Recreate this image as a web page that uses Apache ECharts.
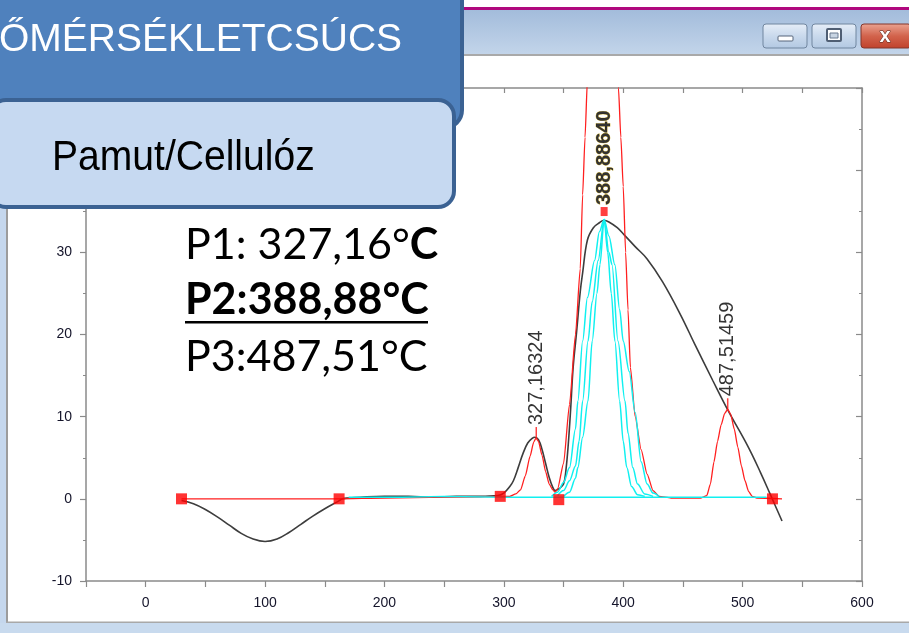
<!DOCTYPE html>
<html><head><meta charset="utf-8">
<script src="https://cdn.jsdelivr.net/npm/echarts@6/dist/echarts.min.js"></script>
<style>html,body{margin:0;padding:0;background:#fff}#c{width:909px;height:633px}</style>
</head><body><div id="c"></div>
<script>
// ---- data ----
const dtgT = [30,40,50,60,70,80,90,100,110,120,130,140,150,160,165,170,180,200,220,240,260,280,295,300,305,308,312,316,320,324,326,329,332,335,338,341,343,346,350,352,354,356,358,361,364,366,370,375,380,384,388,395,401,410,420,433,448,460,475,488,504,515,523,533];
const dtgV = [-0.2,-0.6,-1.3,-2.2,-3.2,-4.2,-4.9,-5.2,-4.9,-4.1,-3.1,-2.1,-1.2,-0.4,0,0.1,0.2,0.3,0.3,0.2,0.3,0.3,0.4,0.7,1.5,2.2,3.8,5.5,6.8,7.4,7.5,7.2,6.0,4.3,2.6,1.4,1.0,1.2,1.8,3.5,6.7,11,15.9,20.4,25.2,27.5,31.5,33,33.6,33.9,33.7,33,32.1,30.7,29.2,26.4,22.4,18.8,14.4,10.7,6.5,3.2,0.6,-2.7];

const fitT = [30,162,200,250,297,305,310,314,318,322,325,327,329,332,335,338,341,343,345,350,355,360,364,366,368,370,375,380,383,386,390,393,396,398,400,402,404,406,410,415,420,425,430,440,465,470,473,476,479,482,485,487.5,490,493,496,499,502,505,508,512,533];
const fitV = [0,0,0.1,0.2,0.3,0.3,0.6,1.1,2.8,5.2,6.9,7.4,7.0,5.3,3.3,1.8,1.1,0.8,1.2,4.3,11.5,20,28,37,44,51,68,82,87,82,72,60,50,44,38,30,23,16,10,6,3,1,0.3,0.1,0.1,0.4,1.8,4.5,7,9,10.4,10.9,10.3,8.5,6.3,4,2.2,0.9,0.3,0.1,0];

const cyanAT = [340,345,350,355,360,362,366,370,376,380,384,388,393,397,400,405,410,415,420,425,430];
const cyanAV = [0.3,0.8,2,3.8,8.5,11.9,19.2,24.5,29,32.5,34,32,28.5,23,19.2,15.5,10.5,4.5,1.8,0.7,0.3];
const cyanBT = [345,350,355,360,363,366,370.5,374,379,384,388,390.6,395.6,401.5,404,408,412,418,425];
const cyanBV = [0.4,1,2.2,4,7,11.9,19.2,24,29,34,30,28.5,19.2,11.9,8,3.8,1.8,0.6,0.3];
const cyanCT = [350,355,360,362,366,370.5,374,378,380.5,384,387,390,393,397,400,403,407,412,418];
const cyanCV = [0.3,0.8,2.5,3.8,7.5,11.9,19.2,25,28.5,34,30,25,19.2,11.9,7,3.8,1.5,0.5,0.3];
const cyanBaseT = [170,215,250,300,520];
const cyanBaseV = [0.2,0.2,0.3,0.2,0.2];

const anchorT = [30,162,297,346,525];
const anchorV = [0,0,0.3,-0.1,0];

const peakT = [327.16,384,487.51];
const peakV = [7.4,34.6,10.9];
const peakText = ['327,16324','388,88640','487,51459'];

const xTickLabels = [0,100,200,300,400,500,600];

// ---- build ----
const zip = (a,b) => a.map((v,i)=>[v,b[i]]);
const axisColor = '#8a8a8a';
const labelColor = '#14142a';
const font = 'Liberation Sans, Arial, sans-serif';

function lineSeries(data, color, width, smooth, z, mono){
  const s = {type:'line', data, showSymbol:false, smooth,
    lineStyle:{color, width}, itemStyle:{color}, z, animation:false, silent:true};
  if (mono) s.smoothMonotone = 'x';
  return s;
}

const peakData = peakT.map((t,i)=>{
  const big = i===1;
  return {
    value:[t, peakV[i]],
    symbol:'rect',
    symbolSize: big ? [7,9] : [1.5,11],
    symbolOffset: big ? [0,-3] : [0,-5.5],
    label:{show:true, formatter:peakText[i], position:'top', rotate:90, align:'left', verticalAlign:'middle',
      distance:2, fontFamily:font, fontSize:20, fontWeight: big ? 'bold' : 'normal',
      color:'#000', textBorderColor: big ? '#c8a000' : 'transparent', textBorderWidth: big ? 0.6 : 0}
  };
});

const chart = echarts.init(document.getElementById('c'), null, {renderer:'canvas'});

const option = {
  backgroundColor:'#ffffff',
  animation:false,
  grid:{left:86, right:47, top:88, bottom:52},
  xAxis:[
    {type:'value', min:-50, max:600, interval:50, position:'bottom',
     axisLine:{show:true, onZero:false, lineStyle:{color:axisColor, width:1.5}},
     axisTick:{show:true, inside:false, length:6, lineStyle:{color:axisColor, width:1.2}},
     axisLabel:{margin:15, color:labelColor, fontFamily:font, fontSize:14,
       formatter:v => xTickLabels.includes(v) ? String(v) : ''},
     splitLine:{show:false}},
    {type:'value', min:-50, max:600, interval:50, position:'top',
     axisLine:{show:true, onZero:false, lineStyle:{color:axisColor, width:1.5}},
     axisTick:{show:true, inside:true, length:5, lineStyle:{color:axisColor, width:1.2}},
     axisLabel:{show:false}, splitLine:{show:false}}
  ],
  yAxis:[
    {type:'value', min:-10, max:50, interval:10, position:'left',
     axisLine:{show:true, onZero:false, lineStyle:{color:axisColor, width:1.5}},
     axisTick:{show:true, inside:false, length:6, lineStyle:{color:axisColor, width:1.2}},
     minorTick:{show:true, splitNumber:2, length:3, lineStyle:{color:axisColor}},
     axisLabel:{margin:14, color:labelColor, fontFamily:font, fontSize:14},
     splitLine:{show:false}},
    {type:'value', min:-10, max:50, interval:10, position:'right',
     axisLine:{show:true, onZero:false, lineStyle:{color:axisColor, width:1.5}},
     axisTick:{show:true, inside:true, length:6, lineStyle:{color:axisColor, width:1.2}},
     minorTick:{show:true, splitNumber:2, length:3, lineStyle:{color:axisColor}},
     axisLabel:{show:false}, splitLine:{show:false}}
  ],
  series:[
    lineSeries(zip(dtgT,dtgV), '#3d3d3d', 1.6, 0.4, 2, false),
    lineSeries(zip(fitT,fitV), '#ff1f1f', 1.3, 0.2, 3, true),
    lineSeries(zip(cyanBaseT,cyanBaseV), '#10f0f0', 1.4, false, 4, false),
    lineSeries(zip(cyanAT,cyanAV), '#10f0f0', 1.5, 0.3, 4, true),
    lineSeries(zip(cyanBT,cyanBV), '#10f0f0', 1.5, 0.3, 4, true),
    lineSeries(zip(cyanCT,cyanCV), '#10f0f0', 1.5, 0.3, 4, true),
    {type:'scatter', data:zip(anchorT,anchorV), symbol:'rect', symbolSize:11,
     itemStyle:{color:'#ff0000'}, z:6, silent:true},
    {type:'scatter', data:peakData, itemStyle:{color:'#ff1010'}, z:7, silent:true}
  ],
  graphic:{elements:[
    // window chrome (behind)
    {type:'rect', z:-5, shape:{x:462, y:7, width:447, height:3}, style:{fill:'#b0087e'}},
    {type:'rect', z:-5, shape:{x:462, y:10, width:447, height:45},
     style:{fill:new echarts.graphic.LinearGradient(0,0,0,1,[{offset:0,color:'#a3bcdb'},{offset:1,color:'#c3d5ea'}])}},
    {type:'rect', z:-5, shape:{x:462, y:54, width:447, height:2}, style:{fill:'#a9a9a9'}},
    {type:'rect', z:-5, shape:{x:0, y:0, width:6, height:633}, style:{fill:'#c5d7ed'}},
    {type:'rect', z:-5, shape:{x:6, y:56, width:2, height:567}, style:{fill:'#9c9c9c'}},
    {type:'rect', z:-5, shape:{x:0, y:623, width:909, height:10}, style:{fill:'#c8daee'}},
    {type:'rect', z:-5, shape:{x:6, y:621.5, width:903, height:1.5}, style:{fill:'#a8a8a8'}},
    // buttons
    {type:'rect', z:-4, shape:{x:763, y:24, width:44, height:24, r:3},
     style:{fill:new echarts.graphic.LinearGradient(0,0,0,1,[{offset:0,color:'#e6eef8'},{offset:0.5,color:'#c9d9ec'},{offset:1,color:'#b2c8e2'}]), stroke:'#71869f', lineWidth:1}},
    {type:'rect', z:-3, shape:{x:778, y:36, width:15, height:5, r:1}, style:{fill:'#ffffff', stroke:'#56657a', lineWidth:1}},
    {type:'rect', z:-4, shape:{x:812, y:24, width:44, height:24, r:3},
     style:{fill:new echarts.graphic.LinearGradient(0,0,0,1,[{offset:0,color:'#e6eef8'},{offset:0.5,color:'#c9d9ec'},{offset:1,color:'#b2c8e2'}]), stroke:'#71869f', lineWidth:1}},
    {type:'rect', z:-3, shape:{x:827, y:29, width:14, height:12, r:1}, style:{fill:'#ffffff', stroke:'#4f5e73', lineWidth:2}},
    {type:'rect', z:-3, shape:{x:830, y:33, width:8, height:5}, style:{fill:'#c9d5e3', stroke:'#6a7a90', lineWidth:1}},
    {type:'rect', z:-4, shape:{x:861, y:24, width:50, height:24, r:3},
     style:{fill:new echarts.graphic.LinearGradient(0,0,0,1,[{offset:0,color:'#eba593'},{offset:0.5,color:'#d2634c'},{offset:1,color:'#c0412b'}]), stroke:'#84362a', lineWidth:1}},
    {type:'text', z:-3, x:885, y:36, style:{text:'x', fill:'#ffffff', stroke:'#5a2a20', lineWidth:1, font:'bold 20px Liberation Sans', align:'center', verticalAlign:'middle'}},
    // overlay boxes (front)
    {type:'rect', z:100, shape:{x:-10, y:-10, width:472, height:138, r:[0,0,18,0]},
     style:{fill:'#4f81bd', stroke:'#3b6293', lineWidth:4}},
    {type:'text', z:101, x:-1, y:40, style:{text:'ŐMÉRSÉKLETCSÚCS', fill:'#ffffff', font:'39px Liberation Sans', verticalAlign:'middle'}},
    {type:'rect', z:102, shape:{x:-10, y:100, width:464, height:107, r:16},
     style:{fill:'#c6d9f1', stroke:'#3b6293', lineWidth:4}},
    {type:'text', z:103, x:52, y:158, scaleX:0.93, style:{text:'Pamut/Cellulóz', fill:'#000000', font:'42px Liberation Sans', verticalAlign:'middle'}},
    // peak temperature text
    {type:'text', z:103, x:185, y:245, style:{text:'{a|P1: 327,16°}{b|C}', verticalAlign:'middle',
      rich:{a:{fontFamily:'Lato', fontSize:43, fill:'#000', color:'#000'}, b:{fontFamily:'Lato', fontSize:43, fontWeight:'bold', fill:'#000', color:'#000'}}}},
    {type:'text', z:103, x:185, y:300, style:{text:'P2:388,88°C', fill:'#000', font:'bold 43px Lato', verticalAlign:'middle'}},
    {type:'rect', z:103, shape:{x:185, y:321, width:243, height:2.5}, style:{fill:'#000'}},
    {type:'text', z:103, x:185, y:357, style:{text:'P3:487,51°C', fill:'#000', font:'43px Lato', verticalAlign:'middle'}}
  ]}
};
chart.setOption(option);
</script></body></html>
